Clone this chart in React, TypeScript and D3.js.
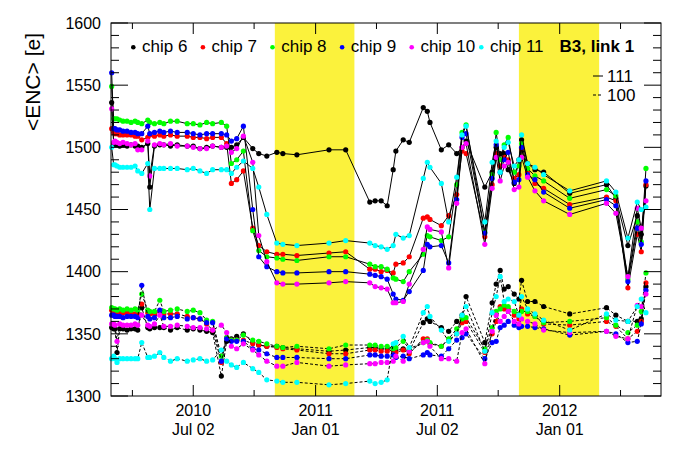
import React from "react";
import * as d3 from "d3";

// ---- data -------------------------------------------------------------
const dates = [
  "2010-03-02","2010-03-05","2010-03-07","2010-03-10","2010-03-14","2010-03-19","2010-03-25","2010-03-31","2010-04-06","2010-04-10",
  "2010-04-16","2010-04-25","2010-04-28","2010-05-05","2010-05-13","2010-05-19","2010-05-29","2010-06-08","2010-06-23","2010-07-02",
  "2010-07-12","2010-07-22","2010-07-31","2010-08-13","2010-08-21","2010-08-28","2010-09-05","2010-09-15","2010-09-29","2010-10-08",
  "2010-10-20","2010-11-04","2010-11-13","2010-12-04","2011-01-21","2011-02-15","2011-03-23","2011-03-31","2011-04-09","2011-04-18",
  "2011-04-27","2011-05-01","2011-05-12","2011-05-21","2011-06-11","2011-06-17","2011-06-21","2011-07-08","2011-07-19","2011-07-31",
  "2011-08-08","2011-08-14",
  "2011-09-11","2011-09-22","2011-09-28","2011-10-04","2011-10-10","2011-10-16","2011-10-25","2011-11-01","2011-11-05","2011-11-14",
  "2011-11-25","2011-12-08","2012-01-16","2012-03-11","2012-03-25","2012-04-12","2012-04-26","2012-05-02","2012-05-09",
];

const chipNames = ["chip 6", "chip 7", "chip 8", "chip 9", "chip 10", "chip 11"];
const chipColors = ["#000000", "#ff0000", "#00ff00", "#0000ff", "#ff00ff", "#00ffff"];

// threshold setting "111" (solid lines)
const enc111Chip6 = [
  1536,1503,1502,1502,1501,1502,1501,1502,1501,1501,
  1500,1503,1468,1501,1502,1502,1501,1502,1501,1501,
  1499,1500,1501,1500,1500,1500,1502,1508,1499,1495,
  1493,1496,1495,1494,1498,1498,1456,1457,1457,1453,
  1482,1497,1506,1504,1532,1529,1520,1498,1502,1495,
  1500,1505,
  1468,1480,1500,1495,1495,1482,1471,1490,1506,1487,
  1482,1480,1463,1470,1459,1421,1445,1430,1469,
];
const enc111Chip7 = [
  1515,1512,1511,1511,1510,1510,1510,1510,1509,1509,
  1506,1508,1510,1509,1510,1509,1510,1509,1509,1508,
  1508,1507,1508,1508,1503,1471,1474,1481,1435,1421,
  1416,1414,1414,1413,1415,1416,1402,1402,1400,1401,
  1399,1406,1407,1412,1443,1444,1442,1437,1445,1462,
  1497,1495,
  1428,1470,1495,1485,1492,1490,1475,1478,1499,1480,
  1471,1467,1454,1460,1457,1387,1430,1416,1470,
];
const enc111Chip8 = [
  1549,1523,1523,1523,1522,1521,1521,1520,1521,1520,
  1519,1522,1520,1519,1520,1519,1521,1521,1519,1519,
  1518,1520,1519,1520,1517,1487,1490,1497,1433,1417,
  1412,1411,1410,1409,1412,1412,1406,1404,1404,1402,
  1395,1394,1392,1400,1414,1429,1428,1425,1428,1470,
  1512,1518,
  1432,1478,1512,1490,1502,1508,1480,1485,1503,1483,
  1477,1473,1459,1466,1461,1394,1440,1424,1483,
];
const enc111Chip9 = [
  1560,1515,1515,1514,1514,1513,1513,1512,1512,1511,
  1511,1517,1511,1512,1513,1512,1513,1512,1512,1511,
  1510,1511,1511,1511,1510,1505,1507,1517,1450,1412,
  1404,1400,1399,1399,1400,1400,1398,1397,1396,1394,
  1382,1378,1377,1384,1401,1422,1420,1421,1407,1458,
  1508,1511,
  1431,1475,1502,1480,1490,1496,1472,1474,1500,1478,
  1474,1464,1451,1458,1453,1392,1435,1422,1473,
];
const enc111Chip10 = [
  1531,1504,1505,1504,1503,1504,1503,1502,1503,1498,
  1498,1505,1477,1502,1503,1502,1503,1501,1501,1500,
  1499,1499,1501,1500,1501,1496,1499,1509,1488,1429,
  1408,1391,1390,1390,1391,1392,1391,1388,1387,1386,
  1375,1375,1376,1390,1418,1436,1434,1432,1403,1455,
  1500,1503,
  1422,1467,1492,1473,1485,1488,1466,1468,1492,1476,
  1465,1457,1446,1455,1447,1396,1451,1435,1457,
];
const enc111Chip11 = [
  1500,1486,1486,1485,1484,1484,1484,1484,1485,1481,
  1479,1487,1450,1483,1483,1483,1483,1483,1482,1483,
  1481,1479,1482,1482,1482,1479,1484,1489,1483,1468,
  1446,1423,1422,1421,1423,1425,1423,1421,1420,1418,
  1421,1430,1427,1429,1475,1488,1484,1471,1440,1476,
  1510,1517,
  1440,1488,1505,1480,1500,1504,1485,1490,1510,1487,
  1484,1478,1465,1473,1464,1427,1456,1450,1452,
];

// threshold setting "100" (dashed lines)
const enc100Chip6 = [
  1355,1354,1354,1335,1354,1354,1353,1354,1354,1353,
  1371,1355,1354,1355,1355,1355,1353,1355,1353,1354,
  1353,1352,1351,1316,1344,1346,1348,1350,1343,1341,
  1340,1340,1339,1338,1336,1337,1339,1339,1338,1338,
  1339,1337,1338,1336,1359,1362,1360,1355,1352,1360,
  1365,1380,
  1343,1375,1390,1401,1386,1388,1382,1378,1393,1376,
  1376,1372,1366,1371,1365,1360,1360,1362,1388,
];
const enc100Chip7 = [
  1369,1368,1367,1366,1367,1367,1367,1367,1366,1366,
  1374,1367,1366,1366,1368,1366,1366,1366,1364,1363,
  1362,1358,1353,1327,1347,1345,1345,1345,1342,1341,
  1340,1339,1338,1337,1334,1334,1337,1337,1336,1336,
  1337,1335,1337,1334,1346,1346,1342,1340,1345,1350,
  1359,1360,
  1335,1350,1360,1372,1370,1370,1365,1362,1370,1366,
  1364,1358,1357,1360,1356,1346,1352,1360,1391,
];
const enc100Chip8 = [
  1371,1370,1370,1369,1370,1369,1370,1369,1370,1369,
  1382,1369,1368,1368,1377,1368,1369,1370,1368,1369,
  1367,1361,1360,1332,1347,1345,1345,1349,1345,1344,
  1342,1340,1339,1340,1338,1341,1341,1341,1340,1340,
  1338,1339,1344,1338,1343,1345,1343,1340,1346,1354,
  1362,1363,
  1338,1355,1368,1370,1373,1372,1368,1366,1368,1368,
  1364,1359,1360,1363,1357,1351,1357,1368,1399,
];
const enc100Chip9 = [
  1365,1365,1364,1364,1364,1363,1364,1364,1364,1363,
  1389,1364,1362,1363,1369,1363,1363,1364,1362,1363,
  1362,1359,1359,1328,1346,1344,1344,1344,1338,1337,
  1334,1331,1331,1331,1330,1330,1333,1333,1332,1332,
  1333,1331,1332,1330,1333,1335,1333,1332,1338,1345,
  1347,1350,
  1330,1343,1344,1355,1357,1360,1357,1355,1356,1356,
  1355,1354,1349,1352,1350,1343,1344,1358,1385,
];
const enc100Chip10 = [
  1358,1358,1357,1344,1358,1357,1357,1357,1358,1357,
  1365,1357,1356,1358,1365,1356,1356,1357,1356,1355,
  1355,1354,1353,1357,1351,1340,1338,1342,1337,1333,
  1328,1324,1324,1327,1324,1325,1326,1326,1327,1327,
  1328,1332,1328,1336,1343,1344,1340,1330,1330,1328,
  1351,1354,
  1326,1352,1365,1360,1364,1368,1360,1358,1362,1360,
  1358,1353,1351,1352,1348,1346,1373,1372,1382,
];
const enc100Chip11 = [
  1330,1332,1330,1327,1330,1330,1330,1330,1330,1330,
  1343,1331,1331,1332,1335,1331,1328,1330,1328,1329,
  1330,1328,1329,1337,1328,1325,1323,1327,1322,1319,
  1313,1312,1311,1311,1309,1310,1312,1310,1311,1313,
  1342,1343,1348,1339,1367,1372,1364,1353,1344,1350,
  1365,1372,
  1336,1367,1380,1396,1376,1378,1376,1365,1380,1370,
  1366,1361,1353,1366,1361,1360,1372,1378,1367,
];

const series111 = [enc111Chip6, enc111Chip7, enc111Chip8, enc111Chip9, enc111Chip10, enc111Chip11];
const series100 = [enc100Chip6, enc100Chip7, enc100Chip8, enc100Chip9, enc100Chip10, enc100Chip11];

const yMajorTicks = [1300, 1350, 1400, 1450, 1500, 1550, 1600];
const xMajorTicks = ["2010-07-02", "2011-01-01", "2011-07-02", "2012-01-01"];
const xMinorTicks = ["2010-04-02", "2010-10-01", "2011-04-02", "2011-10-01", "2012-04-01"];
const shutdownPeriods = [
  ["2010-11-01", "2011-02-28"],
  ["2011-11-01", "2012-02-29"],
];
const xDomain = ["2010-03-01T00:00:00Z", "2012-05-31T12:00:00Z"];
const yDomain = [1300, 1600];
const thresholdLabels = ["111", "100"];

// ---- chart ------------------------------------------------------------
const FONT = "'Liberation Sans', Arial, Helvetica, sans-serif";

export default function App() {
  const W = 696, H = 472;
  const left = 111, right = 661, top = 23, bottom = 396;

  const x = d3.scaleUtc().domain(xDomain.map((d) => new Date(d))).range([left, right]);
  const y = d3.scaleLinear().domain(yDomain).range([bottom, top]);
  const parsed = dates.map((d) => new Date(d));
  const line = d3
    .line<number>()
    .x((_, i) => x(parsed[i]))
    .y((v) => y(v));

  const yMinor = d3.range(yDomain[0], yDomain[1] + 1, 10).filter((v) => v % 50 !== 0);
  const fmtYear = d3.utcFormat("%Y");
  const fmtDay = d3.utcFormat("%b %d");

  const drawSeries = (data: number[], ci: number, dashed: boolean, key: string) => (
    <g key={key}>
      <path
        d={line(data) || ""}
        fill="none"
        stroke="#000"
        strokeWidth={1}
        strokeDasharray={dashed ? "3,2" : undefined}
      />
      {data.map((v, i) => (
        <circle key={i} cx={x(parsed[i])} cy={y(v)} r={2.6} fill={chipColors[ci]} />
      ))}
    </g>
  );

  return (
    <svg
      width={W}
      height={H}
      style={{ position: "absolute", left: 0, top: 0, background: "#fff" }}
      fontFamily={FONT}
    >
      <rect width={W} height={H} fill="#fff" />

      {/* shutdown bands */}
      {shutdownPeriods.map(([a, b], i) => (
        <rect
          key={i}
          x={x(new Date(a))}
          y={top}
          width={x(new Date(b)) - x(new Date(a))}
          height={bottom - top}
          fill="#fbf23c"
        />
      ))}

      {/* data */}
      {series111.map((s, i) => drawSeries(s, i, false, "s" + i))}
      {series100.map((s, i) => drawSeries(s, i, true, "d" + i))}

      {/* frame */}
      <rect x={left} y={top} width={right - left} height={bottom - top} fill="none" stroke="#000" strokeWidth={1} />

      {/* y ticks */}
      {yMajorTicks.map((v) => (
        <g key={"ym" + v}>
          <line x1={left} x2={left + 17} y1={y(v)} y2={y(v)} stroke="#000" />
          <line x1={right} x2={right - 17} y1={y(v)} y2={y(v)} stroke="#000" />
          <text x={101} y={y(v)} dy="0.36em" textAnchor="end" fontSize={16}>
            {v}
          </text>
        </g>
      ))}
      {yMinor.map((v) => (
        <g key={"yn" + v}>
          <line x1={left} x2={left + 8} y1={y(v)} y2={y(v)} stroke="#000" />
          <line x1={right} x2={right - 8} y1={y(v)} y2={y(v)} stroke="#000" />
        </g>
      ))}

      {/* x ticks */}
      {xMajorTicks.map((d) => {
        const xx = x(new Date(d));
        return (
          <g key={"xm" + d}>
            <line x1={xx} x2={xx} y1={bottom} y2={bottom - 11} stroke="#000" />
            <line x1={xx} x2={xx} y1={top} y2={top + 11} stroke="#000" />
            <text x={xx} y={416} textAnchor="middle" fontSize={16}>
              {fmtYear(new Date(d))}
            </text>
            <text x={xx} y={434.5} textAnchor="middle" fontSize={16}>
              {fmtDay(new Date(d))}
            </text>
          </g>
        );
      })}
      {xMinorTicks.map((d) => {
        const xx = x(new Date(d));
        return (
          <g key={"xn" + d}>
            <line x1={xx} x2={xx} y1={bottom} y2={bottom - 6} stroke="#000" />
            <line x1={xx} x2={xx} y1={top} y2={top + 6} stroke="#000" />
          </g>
        );
      })}

      {/* y title */}
      <text transform="translate(39.5,33) rotate(-90)" textAnchor="end" fontSize={21}>
        {"<ENC> [e]"}
      </text>

      {/* legend */}
      {chipNames.map((n, i) => (
        <g key={"lg" + i}>
          <circle cx={133.3 + i * 69.6} cy={47.3} r={2.3} fill={chipColors[i]} />
          <text x={142 + i * 69.6} y={51.5} fontSize={17}>
            {n}
          </text>
        </g>
      ))}
      <text x={559.5} y={51.5} fontSize={17} fontWeight="bold">
        B3, link 1
      </text>
      <line x1={593} x2={603} y1={76} y2={76} stroke="#000" />
      <text x={607} y={82} fontSize={17}>
        {thresholdLabels[0]}
      </text>
      <line x1={593} x2={603} y1={95} y2={95} stroke="#000" strokeDasharray="3,2" />
      <text x={607} y={100.5} fontSize={17}>
        {thresholdLabels[1]}
      </text>
    </svg>
  );
}
